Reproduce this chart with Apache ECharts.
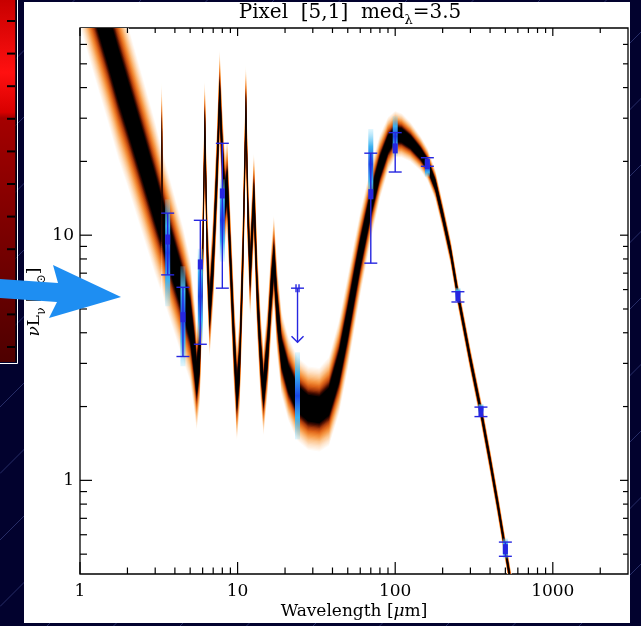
<!DOCTYPE html>
<html>
<head>
<meta charset="utf-8">
<script src="https://cdn.jsdelivr.net/npm/echarts@6/dist/echarts.min.js"></script>
<style>
  html, body { margin: 0; padding: 0; background: #02022e; }
  #chart { width: 641px; height: 626px; }
</style>
</head>
<body>
<div id="chart"></div>
<script>
// ---- SED posterior: median curve and band half-width (dex) ----
const wavelength = [1.0, 1.25, 1.5, 1.75, 2.0, 2.5, 3.0, 3.2, 3.28, 3.31, 3.34, 3.5, 4.0, 4.5, 5.0, 5.3, 5.5, 5.75,
  6.0, 6.2, 6.4, 6.65, 7.0, 7.4, 7.7, 8.0, 8.3, 8.6, 9.0, 9.5, 9.9, 10.3, 10.8, 11.3, 11.6, 12.0, 12.7, 13.3,
  14.0, 14.6, 15.5, 16.3, 17.0, 17.8, 19, 21, 24, 28, 33, 38, 44, 50, 55, 60, 70, 80, 90, 100, 110, 125, 145,
  160, 180, 200, 225, 250, 300, 350, 400, 450, 500, 550];
const medianLum = [156, 95, 64, 45, 34, 21, 14.1, 12.2, 11.6, 26, 11.3, 10, 7.5, 5.8, 4.5, 3.3, 2.6, 3.3,
  8, 28, 9, 4.9, 8, 18, 37, 21, 14, 16, 8, 3.6, 2.25, 3, 8, 33, 13, 7, 14.4, 6,
  3.2, 2.3, 3.4, 5.8, 8, 5, 3.3, 2.6, 2.15, 1.97, 1.94, 2.1, 2.9, 4.4, 6.2, 8.4, 13.5, 19, 23.5, 25.8, 25.5, 24, 21.5,
  19.5, 16, 12, 8.5, 5.7, 3.1, 1.91, 1.2, 0.78, 0.52, 0.36];
const spreadDex = [0.34, 0.34, 0.34, 0.34, 0.33, 0.32, 0.31, 0.30, 0.29, 0.22, 0.29, 0.29, 0.28, 0.27, 0.25, 0.23, 0.21, 0.21,
  0.20, 0.19, 0.19, 0.19, 0.19, 0.19, 0.19, 0.19, 0.19, 0.19, 0.19, 0.19, 0.19, 0.19, 0.19, 0.18, 0.18, 0.18, 0.18, 0.18,
  0.18, 0.18, 0.18, 0.18, 0.18, 0.18, 0.17, 0.17, 0.17, 0.17, 0.17, 0.18, 0.19, 0.19, 0.18, 0.17, 0.15, 0.13, 0.11, 0.095, 0.09, 0.08, 0.07,
  0.065, 0.06, 0.055, 0.052, 0.05, 0.05, 0.05, 0.05, 0.05, 0.05, 0.05];

// ---- photometry with 1-sigma error bars ----
const obsWave = [3.6, 4.5, 5.8, 8.0, 70, 100, 160, 250, 350, 500];
const obsLum  = [9.6, 4.63, 7.6, 14.8, 14.7, 22.6, 19.5, 5.64, 1.91, 0.524];
const obsLo   = [6.89, 3.2, 3.59, 6.08, 7.69, 18.1, 19.1, 5.34, 1.82, 0.49];
const obsHi   = [12.3, 6.13, 11.5, 23.7, 21.6, 26.2, 20.7, 5.88, 1.99, 0.56];

// ---- model-predicted band fluxes (range of the posterior) ----
const modelWave = [3.6, 4.5, 5.8, 8.0, 24, 70, 100, 160, 250, 350, 500];
const modelLo   = [5.13, 2.92, 3.6, 7.8, 1.47, 14.0, 21.0, 17.3, 5.5, 1.88, 0.48];
const modelHi   = [14.0, 7.47, 8.8, 16.9, 3.33, 27.1, 30.6, 20.6, 6.1, 2.05, 0.58];

// ---- upper limit ----
const limitWave = [24];
const limitLum  = [6.08];
const limitTip  = [3.66];

// ---- axes ----
const X_MIN = 1, X_MAX = 3000, Y_MIN = 0.415, Y_MAX = 70;
const xMajorTicks = [1, 10, 100, 1000];
const xMinorTicks = [2, 3, 4, 5, 6, 7, 8, 9, 20, 30, 40, 50, 60, 70, 80, 90, 200, 300, 400, 500, 600, 700, 800, 900, 2000];
const yMajorTicks = [1, 10];
const yMinorTicks = [0.5, 0.6, 0.7, 0.8, 0.9, 2, 3, 4, 5, 6, 7, 8, 9, 20, 30, 40, 50, 60];

const BLUE = '#2626e0';
const SERIF = '"DejaVu Serif", "Liberation Serif", serif';

// colour ramp of the posterior density: [fraction of band half-width, colour]
const rampStops = [
  [1.00, [255, 250, 244]],
  [0.90, [254, 230, 206]],
  [0.78, [252, 196, 140]],
  [0.66, [245, 148, 64]],
  [0.56, [224, 102, 26]],
  [0.47, [168, 58, 12]],
  [0.39, [70, 12, 0]],
  [0.32, [0, 0, 0]]
];
const N_LEVELS = 24;
const bandLevels = [];
for (let n = 0; n < N_LEVELS; n++) {
  const f = 1 - (1 - 0.32) * n / (N_LEVELS - 1);
  let j = 0;
  while (j < rampStops.length - 2 && f < rampStops[j + 1][0]) j++;
  const a = rampStops[j], b = rampStops[j + 1];
  const t = (a[0] - f) / (a[0] - b[0]);
  const c = a[1].map((v, k) => Math.round(v + (b[1][k] - v) * Math.min(1, Math.max(0, t))));
  bandLevels.push({ f: f, color: 'rgb(' + c.join(',') + ')' });
}

function clipRect(cs) {
  return { type: 'rect', shape: { x: cs.x, y: cs.y, width: cs.width, height: cs.height } };
}

function bandItem(params, api) {
  if (params.dataIndex !== 0) return null;
  const cs = params.coordSys;
  const children = bandLevels.map(lv => {
    const upper = [], lower = [];
    for (let i = 0; i < wavelength.length; i++) {
      const k = Math.pow(10, spreadDex[i] * lv.f);
      upper.push(api.coord([wavelength[i], medianLum[i] * k]));
      lower.push(api.coord([wavelength[i], medianLum[i] / k]));
    }
    return {
      type: 'polygon',
      shape: { points: upper.concat(lower.reverse()) },
      style: { fill: lv.color }
    };
  });
  return { type: 'group', children: children, clipPath: clipRect(cs) };
}

function modelItem(params, api) {
  const w = api.value(0);
  const lo = api.coord([w, api.value(1)]);
  const hi = api.coord([w, api.value(2)]);
  return {
    type: 'rect',
    shape: { x: hi[0] - 2.5, y: hi[1], width: 5, height: lo[1] - hi[1] },
    style: {
      fill: new echarts.graphic.LinearGradient(0, 0, 0, 1, [
        { offset: 0, color: 'rgba(140,220,250,0.25)' },
        { offset: 0.25, color: '#3cb2f0' },
        { offset: 0.5, color: '#1848e6' },
        { offset: 0.75, color: '#3cb2f0' },
        { offset: 1, color: 'rgba(140,220,250,0.25)' }
      ])
    }
  };
}

function errorBarItem(params, api) {
  const w = api.value(0);
  const lo = api.coord([w, api.value(1)]);
  const hi = api.coord([w, api.value(2)]);
  const mid = api.coord([w, api.value(3)]);
  const cap = 6.5;
  const st = { stroke: BLUE, lineWidth: 1.4, fill: null };
  return {
    type: 'group',
    children: [
      { type: 'line', shape: { x1: hi[0], y1: hi[1], x2: lo[0], y2: lo[1] }, style: st },
      { type: 'line', shape: { x1: hi[0] - cap, y1: hi[1], x2: hi[0] + cap, y2: hi[1] }, style: st },
      { type: 'line', shape: { x1: lo[0] - cap, y1: lo[1], x2: lo[0] + cap, y2: lo[1] }, style: st },
      { type: 'rect', shape: { x: mid[0] - 2.5, y: mid[1] - 5, width: 5, height: 10 }, style: { fill: BLUE } }
    ]
  };
}

function limitItem(params, api) {
  const w = api.value(0);
  const top = api.coord([w, api.value(1)]);
  const tip = api.coord([w, api.value(2)]);
  const st = { stroke: BLUE, lineWidth: 1.4, fill: null };
  return {
    type: 'group',
    children: [
      { type: 'line', shape: { x1: top[0], y1: top[1], x2: tip[0], y2: tip[1] }, style: st },
      { type: 'line', shape: { x1: top[0] - 6.5, y1: top[1], x2: top[0] + 6.5, y2: top[1] }, style: st },
      { type: 'line', shape: { x1: top[0] - 1.5, y1: top[1] - 4, x2: top[0] - 1.5, y2: top[1] + 4 }, style: st },
      { type: 'line', shape: { x1: top[0] + 1.5, y1: top[1] - 4, x2: top[0] + 1.5, y2: top[1] + 4 }, style: st },
      { type: 'polyline', shape: { points: [[tip[0] - 6, tip[1] - 6], [tip[0], tip[1]], [tip[0] + 6, tip[1] - 6]] }, style: st }
    ]
  };
}

// tick marks on all four sides of the frame
function xTickItem(params, api) {
  const cs = params.coordSys;
  const p = api.coord([api.value(0), api.value(1)]);
  const major = api.value(2) === 1;
  const lb = major ? 12 : 6.5, lt = major ? 8 : 5;
  const bottom = cs.y + cs.height, top = cs.y;
  const st = { stroke: '#000', lineWidth: 1.2 };
  return {
    type: 'group',
    children: [
      { type: 'line', shape: { x1: p[0], y1: bottom, x2: p[0], y2: bottom - lb }, style: st },
      { type: 'line', shape: { x1: p[0], y1: top, x2: p[0], y2: top + lt }, style: st }
    ]
  };
}

function yTickItem(params, api) {
  const cs = params.coordSys;
  const p = api.coord([api.value(0), api.value(1)]);
  const major = api.value(2) === 1;
  const ll = major ? 12 : 7, lr = major ? 8 : 5;
  const left = cs.x, right = cs.x + cs.width;
  const st = { stroke: '#000', lineWidth: 1.2 };
  return {
    type: 'group',
    children: [
      { type: 'line', shape: { x1: left, y1: p[1], x2: left + ll, y2: p[1] }, style: st },
      { type: 'line', shape: { x1: right, y1: p[1], x2: right - lr, y2: p[1] }, style: st }
    ]
  };
}

function isDecade(v) {
  const lg = Math.log10(v);
  return Math.abs(lg - Math.round(lg)) < 1e-6;
}

// faint diagonal rules of the slide background
const bgLines = [];
for (let k = -7; k <= 13; k++) {
  const c = 407 + 66.5 * k;
  bgLines.push({
    type: 'line', z: -20, silent: true,
    shape: { x1: 0, y1: c, x2: c, y2: 0 },
    style: { stroke: 'rgba(110,125,210,0.35)', lineWidth: 1 }
  });
}

// red colour bar on the left edge
const barTicks = [];
for (let k = 0; k <= 10; k++) {
  const y = 21 + 32.6 * k;
  barTicks.push({ type: 'line', z: -4, silent: true, shape: { x1: 7, y1: y, x2: 15, y2: y }, style: { stroke: '#000', lineWidth: 2 } });
}

const chart = echarts.init(document.getElementById('chart'), null, { renderer: 'canvas', width: 641, height: 626 });

chart.setOption({
  backgroundColor: '#02022e',
  animation: false,
  grid: {
    left: 80, top: 28, width: 548, height: 546,
    show: true, borderColor: '#000', borderWidth: 1.3, backgroundColor: 'transparent',
    containLabel: false, outerBoundsMode: 'none'
  },
  xAxis: {
    type: 'log', logBase: 10, min: X_MIN, max: X_MAX,
    axisLine: { show: false }, axisTick: { show: false }, splitLine: { show: false },
    axisLabel: {
      margin: 9, fontSize: 17, fontFamily: SERIF, color: '#000',
      showMinLabel: true, showMaxLabel: true,
      formatter: v => isDecade(v) ? String(Math.round(v)) : ''
    }
  },
  yAxis: {
    type: 'log', logBase: 10, min: Y_MIN, max: Y_MAX,
    axisLine: { show: false }, axisTick: { show: false }, splitLine: { show: false },
    axisLabel: {
      margin: 6, fontSize: 17, fontFamily: SERIF, color: '#000',
      formatter: v => isDecade(v) ? String(Math.round(v)) : ''
    }
  },
  graphic: [
    ...bgLines,
    { type: 'rect', z: -10, silent: true, shape: { x: 24, y: 2, width: 606, height: 621 }, style: { fill: '#fff' } },
    {
      type: 'rect', z: -5, silent: true, shape: { x: 0, y: 0, width: 15.5, height: 362 },
      style: {
        fill: new echarts.graphic.LinearGradient(0, 0, 0, 1, [
          { offset: 0, color: '#c80000' },
          { offset: 0.2, color: '#ff1010' },
          { offset: 0.31, color: '#d80000' },
          { offset: 0.326, color: '#a40000' },
          { offset: 0.65, color: '#7a0000' },
          { offset: 1, color: '#4e0000' }
        ])
      }
    },
    { type: 'line', z: -4, silent: true, shape: { x1: 16, y1: 0, x2: 16, y2: 362 }, style: { stroke: '#000', lineWidth: 1 } },
    { type: 'polyline', z: -4, silent: true, shape: { points: [[17.5, 0], [17.5, 363.5], [0, 363.5]] }, style: { stroke: '#ffffff', lineWidth: 1, fill: null } },
    ...barTicks,
    {
      type: 'text', z: 10, silent: true, x: 350, y: 15,
      style: {
        text: '{a|Pixel  [5,1]  med}{s|λ}{a|=3.5}',
        align: 'center', verticalAlign: 'middle',
        rich: {
          a: { fontSize: 20, fontFamily: SERIF, fill: '#000', lineHeight: 24, verticalAlign: 'top' },
          s: { fontSize: 13, fontFamily: SERIF, fill: '#000', lineHeight: 24, verticalAlign: 'bottom' }
        }
      }
    },
    {
      type: 'text', z: 10, silent: true, x: 354, y: 612,
      style: {
        text: '{a|Wavelength [}{i|μ}{a|m]}',
        align: 'center', verticalAlign: 'middle',
        rich: {
          a: { fontSize: 17, fontFamily: SERIF, fill: '#000' },
          i: { fontSize: 17, fontFamily: SERIF, fontStyle: 'italic', fill: '#000' }
        }
      }
    },
    {
      type: 'text', z: 10, silent: true, x: 37, y: 302, rotation: Math.PI / 2,
      style: {
        text: '{i|ν}{a|L}{s|ν}{a| [L}{s|⊙}{a|]}',
        align: 'center', verticalAlign: 'middle',
        rich: {
          i: { fontSize: 17, fontFamily: SERIF, fontStyle: 'italic', fill: '#000', lineHeight: 21, verticalAlign: 'top' },
          a: { fontSize: 17, fontFamily: SERIF, fill: '#000', lineHeight: 21, verticalAlign: 'top' },
          s: { fontSize: 12, fontFamily: SERIF, fill: '#000', lineHeight: 21, verticalAlign: 'bottom' }
        }
      }
    },
    {
      type: 'polygon', z: 60, silent: true,
      shape: { points: [[0, 279], [58, 283], [53, 265], [121, 297], [49, 318], [57, 302], [0, 298]] },
      style: { fill: '#1e8ef2' }
    }
  ],
  series: [
    {
      type: 'custom', name: 'posterior', z: 2, silent: true, clip: true,
      renderItem: bandItem,
      data: wavelength.map((w, i) => [w, medianLum[i]])
    },
    {
      type: 'custom', name: 'model fluxes', z: 3, silent: true, clip: true,
      renderItem: modelItem,
      data: modelWave.map((w, i) => [w, modelLo[i], modelHi[i]])
    },
    {
      type: 'custom', name: 'photometry', z: 4, silent: true, clip: true,
      renderItem: errorBarItem,
      data: obsWave.map((w, i) => [w, obsLo[i], obsHi[i], obsLum[i]])
    },
    {
      type: 'custom', name: 'upper limit', z: 4, silent: true,
      renderItem: limitItem,
      data: limitWave.map((w, i) => [w, limitLum[i], limitTip[i]])
    },
    {
      type: 'custom', name: 'x ticks', z: 5, silent: true,
      renderItem: xTickItem,
      data: xMajorTicks.map(v => [v, Y_MIN, 1]).concat(xMinorTicks.map(v => [v, Y_MIN, 0]))
    },
    {
      type: 'custom', name: 'y ticks', z: 5, silent: true,
      renderItem: yTickItem,
      data: yMajorTicks.map(v => [X_MIN, v, 1]).concat(yMinorTicks.map(v => [X_MIN, v, 0]))
    }
  ]
});
</script>
</body>
</html>
